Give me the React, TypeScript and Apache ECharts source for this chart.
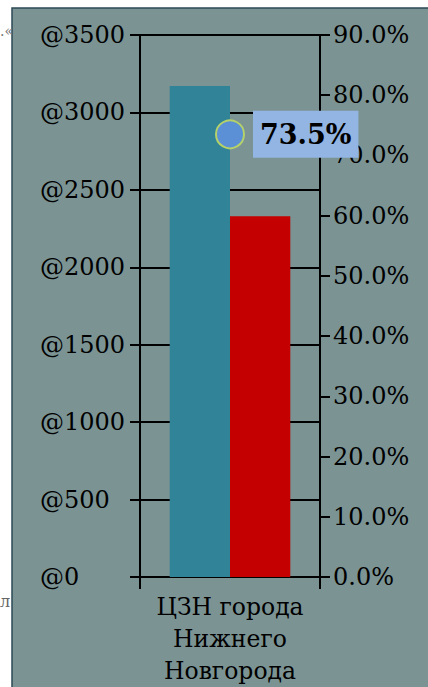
import React, { useEffect, useRef } from "react";
import * as echarts from "echarts";

const categories = ["ЦЗН города\nНижнего\nНовгорода"];
const barA = [3170];
const barB = [2330];
const rate = [0.735];
const leftTicks = { min: 0, max: 3500, interval: 500 };
const rightTicks = { min: 0, max: 0.9, interval: 0.1 };

const FONT = "DejaVu Serif";

export default function App() {
  const ref = useRef<HTMLDivElement>(null);
  useEffect(() => {
    document.body.style.margin = "0";
    const chart = echarts.init(ref.current!, null, { renderer: "svg" });
    chart.setOption({
      animation: false,
      backgroundColor: "#ffffff",
      graphic: [
        {
          type: "rect",
          shape: { x: 12, y: 8, width: 430, height: 700 },
          style: { fill: "#7b9393", stroke: "#2c4a55", lineWidth: 1.5 },
          z: -10,
          silent: true,
        },
        {
          type: "text",
          x: 0,
          y: 24,
          style: { text: ".«", fill: "#777", font: "14px DejaVu Serif" },
        },
        {
          type: "text",
          x: 0,
          y: 593,
          style: { text: "л", fill: "#666", font: "16px DejaVu Serif" },
        },
      ],
      grid: { left: 140, right: 108, top: 35, bottom: 106 },
      xAxis: {
        type: "category",
        data: categories,
        axisLine: { lineStyle: { color: "#000", width: 2 } },
        axisTick: { show: true, length: 12, lineStyle: { color: "#000", width: 2 } },
        axisLabel: {
          color: "#000",
          fontFamily: FONT,
          fontSize: 23.5,
          lineHeight: 32,
          margin: 14,
        },
      },
      yAxis: [
        {
          type: "value",
          ...leftTicks,
          axisLine: { show: true, lineStyle: { color: "#000", width: 2 } },
          axisTick: { show: true, length: 10, lineStyle: { color: "#000", width: 2 } },
          splitLine: { show: true, lineStyle: { color: "#000", width: 2 } },
          axisLabel: {
            formatter: (v: number) => "@" + String(v),
            color: "#000",
            fontFamily: FONT,
            fontSize: 24,
            align: "left",
            margin: 100,
          },
        },
        {
          type: "value",
          ...rightTicks,
          position: "right",
          axisLine: { show: true, lineStyle: { color: "#000", width: 2 } },
          axisTick: { show: true, length: 10, lineStyle: { color: "#000", width: 2 } },
          splitLine: { show: false },
          axisLabel: {
            formatter: (v: number) => (v * 100).toFixed(1) + "%",
            color: "#000",
            fontFamily: FONT,
            fontSize: 24,
            align: "left",
            margin: 13,
          },
        },
      ],
      series: [
        {
          type: "bar",
          data: barA,
          barGap: "0%",
          barCategoryGap: "33%",
          itemStyle: { color: "#318497" },
        },
        {
          type: "bar",
          data: barB,
          itemStyle: { color: "#c40000" },
        },
        {
          type: "line",
          yAxisIndex: 1,
          data: rate,
          symbol: "circle",
          symbolSize: 28,
          itemStyle: { color: "#5b8fd6", borderColor: "#b5d26a", borderWidth: 2 },
          label: {
            show: true,
            position: "right",
            distance: 8,
            formatter: (p: any) => (p.value * 100).toFixed(1) + "%",
            backgroundColor: "#92b5e3",
            padding: [10, 7, 10, 7],
            color: "#000",
            fontFamily: FONT,
            fontWeight: "bold",
            fontSize: 27,
          },
        },
      ],
    });
    return () => chart.dispose();
  }, []);
  return <div ref={ref} style={{ width: 428, height: 687 }} />;
}
